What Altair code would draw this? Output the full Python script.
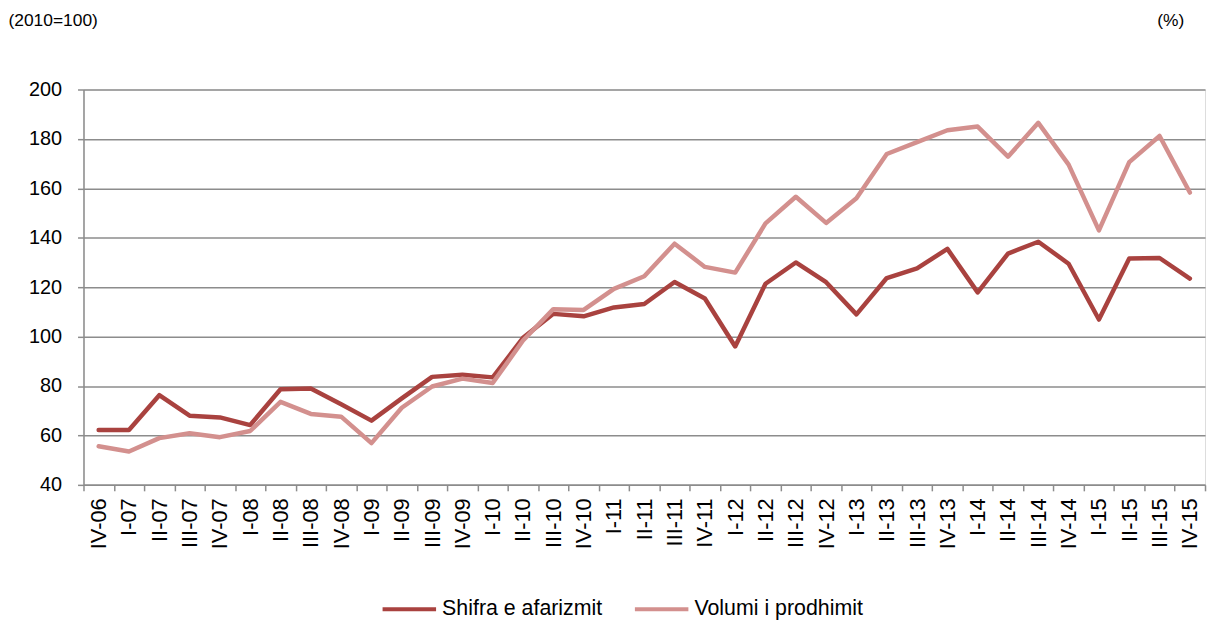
import altair as alt
import pandas as pd

quarters = ["IV-06", "I-07", "II-07", "III-07", "IV-07", "I-08", "II-08", "III-08", "IV-08",
            "I-09", "II-09", "III-09", "IV-09", "I-10", "II-10", "III-10", "IV-10",
            "I-11", "II-11", "III-11", "IV-11", "I-12", "II-12", "III-12", "IV-12",
            "I-13", "II-13", "III-13", "IV-13", "I-14", "II-14", "III-14", "IV-14",
            "I-15", "II-15", "III-15", "IV-15"]

shifra = [62.2, 62.2, 76.3, 68.0, 67.3, 64.2, 78.7, 79.0, 72.6,
          66.0, 75.0, 83.7, 84.6, 83.5, 99.5, 109.2, 108.2,
          111.8, 113.2, 122.1, 115.4, 96.0, 121.4, 130.0, 122.0,
          109.0, 123.7, 127.6, 135.5, 117.9, 133.6, 138.4, 129.5,
          106.9, 131.6, 131.8, 123.5]

volumi = [55.6, 53.5, 58.9, 60.9, 59.3, 61.8, 73.6, 68.7, 67.6,
          56.9, 71.2, 79.8, 83.0, 81.2, 98.4, 111.1, 110.8,
          119.3, 124.4, 137.6, 128.2, 125.9, 145.8, 156.6, 146.0,
          156.0, 173.9, 178.7, 183.5, 185.0, 172.8, 186.5, 169.6,
          143.0, 170.6, 181.2, 158.3]

series_names = ["Shifra e afarizmit", "Volumi i prodhimit"]
series_colors = ["#A9423F", "#D3908E"]

df = pd.DataFrame({
    "q": quarters * 2,
    "v": shifra + volumi,
    "s": [series_names[0]] * len(quarters) + [series_names[1]] * len(quarters),
})

FONT = "Liberation Sans"

x_enc = alt.X("q:N", sort=quarters,
              scale=alt.Scale(paddingInner=0, paddingOuter=0),
              axis=alt.Axis(title=None, labelAngle=270, labelAlign="right", labelBaseline="middle",
                            labelPadding=7, labelFontSize=22, labelFont=FONT, labelColor="#000000",
                            tickBand="extent", tickSize=6, tickColor="#8C8C8C", tickWidth=1.5,
                            domainColor="#8C8C8C", domainWidth=1.5, grid=False))

lines = alt.Chart(df).mark_line(strokeWidth=4.5, strokeJoin="round", strokeCap="round").encode(
    x=x_enc,
    y=alt.Y("v:Q", scale=alt.Scale(domain=[40, 200], nice=False, zero=False),
            axis=alt.Axis(values=list(range(40, 201, 20)), title="(2010=100)", titleAngle=0,
                          titleAlign="left", titleBaseline="alphabetic", titleX=-76, titleY=-64,
                          titleFont=FONT, titleFontSize=17.5, titleFontWeight="normal", titleColor="#000000",
                          labelFont=FONT, labelFontSize=20, labelColor="#000000", labelPadding=16,
                          tickSize=6, tickColor="#8C8C8C", tickWidth=1.5,
                          domainColor="#8C8C8C", domainWidth=1.5,
                          grid=True, gridColor="#8C8C8C", gridWidth=1.5)),
    color=alt.Color("s:N", sort=series_names,
                    scale=alt.Scale(domain=series_names, range=series_colors),
                    legend=alt.Legend(title=None, orient="none", direction="horizontal",
                                      legendX=299, legendY=494, symbolType="stroke",
                                      symbolSize=2900, symbolStrokeWidth=4, labelFont=FONT,
                                      labelFontSize=21.5, labelColor="#000000", labelOffset=4,
                                      columnPadding=24, labelLimit=300)),
)

right = alt.Chart(df).mark_line(opacity=0).encode(
    x=alt.X("q:N", sort=quarters, scale=alt.Scale(paddingInner=0, paddingOuter=0)),
    y=alt.Y("v:Q", scale=alt.Scale(domain=[40, 200], nice=False, zero=False),
            axis=alt.Axis(orient="right", title="(%)", titleAngle=0, titleAlign="center",
                          titleBaseline="alphabetic", titleX=-35, titleY=-64,
                          titleFont=FONT, titleFontSize=17.5, titleFontWeight="normal", titleColor="#000000",
                          labels=False, ticks=False, domain=False, grid=False)),
)

chart = alt.layer(lines, right).resolve_scale(y="independent").properties(
    width=1129, height=398,
    autosize=alt.AutoSizeParams(type="none"),
    padding={"left": 76, "top": 80, "right": 3, "bottom": 134},
).configure_view(stroke=None).configure(background="#ffffff")

chart.save("out.html", embed_options={"renderer": "svg", "actions": False})
